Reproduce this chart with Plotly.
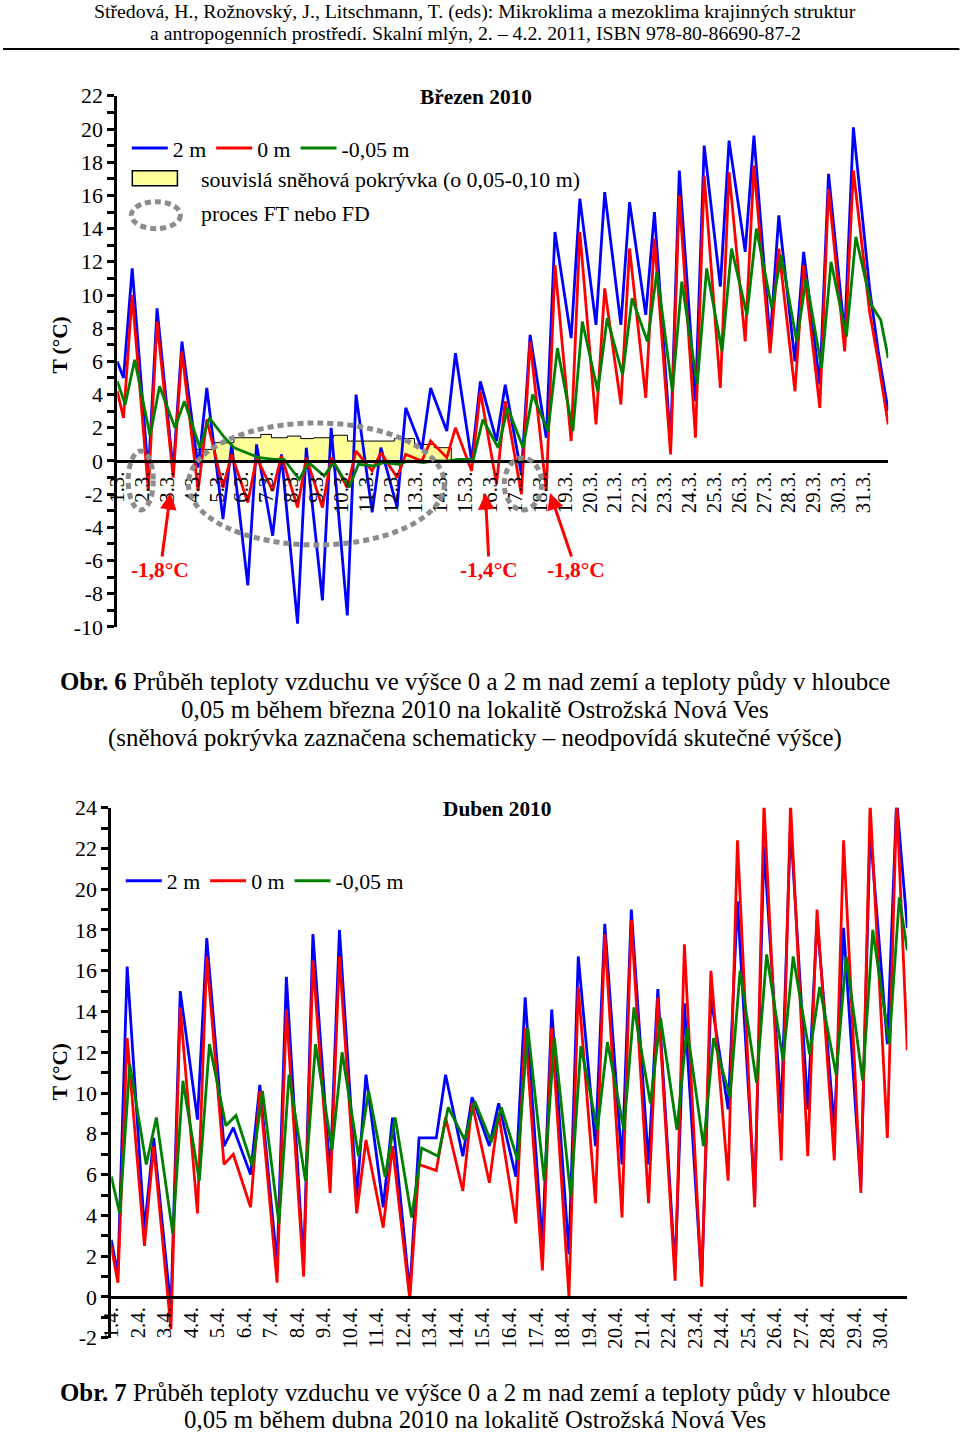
import plotly.graph_objects as go

# ---------------- DATA ----------------
# March 2010 (Březen) - daily low (~06 h) and high (~14 h) values, degC
mar_days = list(range(1, 32))
mar_2m_low = [5.0, -0.8, -0.6, -0.4, -3.5, -7.5, -4.5, -9.8, -8.4, -9.3, -3.1, -2.8, 0.7, 1.8, 0.0, 1.2,
              -0.8, 1.4, 7.4, 8.2, 8.2, 8.8, 1.0, 3.6, 10.5, 12.6, 7.2, 6.0, 4.6, 7.6, 10.4]
mar_2m_high = [11.6, 9.2, 7.2, 4.4, 1.0, 1.0, 0.4, 0.8, 2.0, 4.0, 0.8, 3.2, 4.4, 6.5, 4.8, 4.6,
               7.6, 13.8, 15.8, 16.2, 15.6, 15.0, 17.5, 19.0, 19.3, 19.6, 14.8, 12.6, 17.3, 20.1, 6.6]
mar_0m_low = [2.6, -1.8, -1.0, -1.8, -1.6, -2.5, -1.8, -2.8, -2.8, -1.6, -0.6, -1.0, 0.0, 0.2, -0.6, -1.4,
              -2.0, -1.8, 1.2, 2.2, 3.4, 3.8, 0.4, 1.4, 4.4, 7.2, 6.5, 4.2, 3.2, 6.6, 9.0]
mar_0m_high = [10.0, 8.4, 6.6, 2.5, 0.4, 0.2, 0.3, 0.2, 0.2, 0.6, 0.5, 0.4, 1.2, 2.0, 4.2, 3.6,
               7.2, 11.8, 13.8, 10.4, 12.8, 13.4, 16.0, 17.2, 17.4, 17.8, 12.8, 11.8, 16.4, 17.5, 6.0]
mar_05_low = [3.4, 1.5, 2.0, 0.8, 1.4, 0.4, 0.1, -1.1, -0.9, -1.6, -0.3, -0.2, -0.1, 0.0, 0.1, 0.8,
              0.8, 1.8, 1.8, 4.2, 5.2, 7.2, 4.2, 4.6, 6.6, 8.8, 9.2, 7.2, 5.6, 7.5, 9.4]
mar_05_high = [6.1, 4.5, 3.6, 2.6, 0.8, 0.2, 0.1, -0.1, -0.1, -0.2, -0.1, 0.0, 0.0, 0.1, 2.5, 3.2,
               4.0, 6.8, 8.4, 8.6, 9.8, 11.4, 10.8, 11.6, 12.8, 14.0, 12.4, 11.0, 12.0, 13.5, 8.5]
mar_start = {"2m": 6.0, "0m": 4.2, "05": 4.8}
mar_end = {"2m": 3.0, "0m": 2.2, "05": 6.2}
mar_labels = [f"{d}.3." for d in mar_days]
mar_yticks = list(range(-10, 23, 2))
mar_ylabels = [str(v) for v in mar_yticks]

# schematic snow cover (day, height in chart units)
snow_day = [4.08, 4.08, 4.88, 5.69, 6.77, 7.2, 7.84, 8.38, 8.9, 9.7, 10.26, 11.07, 12.14, 12.95, 13.75, 14.43, 14.43]
snow_h = [0.0, 0.7, 1.1, 1.4, 1.6, 1.4, 1.5, 1.35, 1.4, 1.55, 1.2, 1.2, 1.35, 1.0, 0.8, 0.8, 0.0]

# FT / FD ellipses: (day0, day1, t0, t1)
ft_ellipses = [(1.44, 2.45, -2.95, 0.6), (3.86, 14.15, -5.06, 2.29), (16.56, 18.06, -2.95, 0.18)]
# freezing-point callouts: (label, day of arrow tip, value of arrow tip, day of label)
mar_callouts = [("-1,8°C", 3.14, -1.93, 2.73), ("-1,4°C", 15.8, -1.93, 15.96), ("-1,8°C", 18.4, -1.93, 19.45)]

# April 2010 (Duben)
apr_days = list(range(1, 31))
apr_2m_low = [1.1, 3.3, -0.6, 8.7, 7.4, 6.0, 1.6, 1.5, 5.9, 4.9, 4.4, 0.2, 7.8, 6.9, 7.4, 5.9, 2.5, 2.1,
              7.4, 6.5, 6.5, 1.3, 0.7, 9.2, 4.9, 9.0, 9.2, 8.3, 5.4, 12.4]
apr_2m_high = [16.2, 7.8, 15.0, 17.6, 8.3, 10.4, 15.7, 17.8, 18.0, 10.9, 8.8, 7.8, 10.9, 9.8, 9.5, 14.7,
               14.1, 16.7, 18.3, 19.0, 15.1, 14.4, 14.7, 19.4, 22.1, 23.2, 18.5, 18.1, 22.9, 24.4]
apr_0m_low = [0.7, 2.5, -1.6, 4.1, 6.5, 4.4, 0.7, 1.0, 5.1, 4.1, 3.4, -0.1, 6.2, 5.2, 5.6, 3.6, 1.3, 0.0,
              4.6, 3.9, 4.6, 0.8, 0.5, 5.7, 4.4, 6.7, 6.9, 6.7, 5.1, 7.8]
apr_0m_high = [12.7, 7.4, 14.2, 16.7, 7.0, 10.1, 14.1, 16.5, 16.7, 7.7, 7.4, 6.5, 8.8, 9.5, 9.0, 13.2,
               13.2, 15.2, 17.8, 18.5, 14.7, 17.3, 16.0, 22.4, 24.2, 24.2, 19.0, 22.4, 24.2, 24.4]
apr_05_low = [4.1, 6.5, 3.1, 5.7, 8.4, 6.4, 3.6, 5.7, 7.2, 6.9, 5.9, 3.9, 6.9, 7.7, 7.6, 6.7, 5.7, 4.9,
              8.2, 8.2, 9.5, 8.2, 7.4, 9.8, 10.5, 11.6, 11.9, 10.9, 10.6, 12.4]
apr_05_high = [11.4, 8.8, 10.6, 12.4, 8.9, 10.1, 10.9, 12.4, 12.0, 10.1, 8.8, 7.3, 9.3, 9.6, 9.3, 13.2,
               12.7, 12.3, 12.5, 14.2, 13.7, 13.2, 12.7, 16.0, 16.8, 16.7, 15.2, 16.7, 18.0, 19.6]
apr_start = {"2m": 2.8, "0m": 2.5, "05": 5.9}
apr_end = {"2m": 18.1, "0m": 12.1, "05": 17.0}
apr_labels = [f"{d}.4." for d in apr_days]
apr_yticks = list(range(-2, 25, 2))
apr_ylabels = [str(v) for v in apr_yticks]

series_names = {"2m": "2 m", "0m": "0 m", "05": "-0,05 m"}
series_colors = {"2m": "#0000FF", "0m": "#FF0000", "05": "#008000"}
# hour of day (fraction) of daily low / high
series_times = {"2m": (0.25, 0.6), "0m": (0.25, 0.6), "05": (0.32, 0.7)}

# ---------------- FIGURE ----------------
W, H = 960, 1438
FONT = "Liberation Serif, Times New Roman, serif"
# page positions below are given in target-picture pixels; S/O compensate the
# slight scale/inset observed when the page is photographed
S, O = 0.985, 12.0


def px(x):
    return ((x - O) / S) / W


def py(y):
    return 1 - ((y - O) / S) / H


def fs(size):
    return round(size / S, 2)


def build(days, lows, highs, start, end, key):
    tl, th = series_times[key]
    xs = [days[0]]
    ys = [start]
    for d, lo, hi in zip(days, lows, highs):
        xs += [d + tl, d + th]
        ys += [lo, hi]
    xs.append(days[-1] + 1)
    ys.append(end)
    return xs, ys


fig = go.Figure()

# snow cover
fig.add_trace(go.Scatter(x=snow_day, y=snow_h, mode="lines", line=dict(color="black", width=1, shape="hv"),
                         fill="tozeroy", fillcolor="#FFFF99", showlegend=False, hoverinfo="skip",
                         xaxis="x", yaxis="y"))

mar = {"2m": (mar_2m_low, mar_2m_high), "0m": (mar_0m_low, mar_0m_high), "05": (mar_05_low, mar_05_high)}
apr = {"2m": (apr_2m_low, apr_2m_high), "0m": (apr_0m_low, apr_0m_high), "05": (apr_05_low, apr_05_high)}

for key in ["2m", "0m", "05"]:
    xs, ys = build(mar_days, mar[key][0], mar[key][1], mar_start[key], mar_end[key], key)
    fig.add_trace(go.Scatter(x=xs, y=ys, mode="lines", name=series_names[key],
                             line=dict(color=series_colors[key], width=2.8),
                             xaxis="x", yaxis="y", legend="legend"))
for key in ["2m", "0m", "05"]:
    xs, ys = build(apr_days, apr[key][0], apr[key][1], apr_start[key], apr_end[key], key)
    fig.add_trace(go.Scatter(x=xs, y=ys, mode="lines", name=series_names[key],
                             line=dict(color=series_colors[key], width=2.8),
                             xaxis="x2", yaxis="y2", legend="legend2"))

common_x = dict(anchor="free", showline=True, linecolor="black", linewidth=3, ticks="",
                showgrid=False, zeroline=False, tickangle=-90,
                tickfont=dict(family=FONT, size=fs(20.5), color="black"))
common_y = dict(showline=True, linecolor="black", linewidth=3, ticks="outside", ticklen=7, tickwidth=2.5,
                tickcolor="black", showgrid=False, zeroline=False,
                minor=dict(dtick=1, ticks="outside", ticklen=7, tickwidth=2.5, tickcolor="black"),
                tickfont=dict(family=FONT, size=fs(21.5), color="black"))

# chart 1 geometry (pixels): x 117..886 -> days 1..32, y 97..629 -> 22..-10
fig.update_layout(
    xaxis=dict(domain=[px(117), px(886)], range=[1, 32], tickvals=mar_days, ticktext=mar_labels,
               position=py(463), **common_x),
    yaxis=dict(domain=[py(629), py(97)], range=[-10, 22], anchor="x", tickvals=mar_yticks,
               ticktext=mar_ylabels, **common_y),
    xaxis2=dict(domain=[px(111), px(905)], range=[1, 31], tickvals=apr_days, ticktext=apr_labels,
                position=py(1300), **common_x),
    yaxis2=dict(domain=[py(1341), py(810)], range=[-2, 24], anchor="x2", tickvals=apr_yticks,
                ticktext=apr_ylabels, **common_y),
)

fig.update_layout(
    width=W, height=H, margin=dict(l=0, r=0, t=0, b=0),
    paper_bgcolor="white", plot_bgcolor="white",
    font=dict(family=FONT, color="black"),
    legend=dict(orientation="h", x=px(126.5), y=py(128.5), xanchor="left", yanchor="top",
                font=dict(family=FONT, size=fs(21.5)), bgcolor="rgba(0,0,0,0)", itemwidth=36),
    legend2=dict(orientation="h", x=px(120.5), y=py(862.5), xanchor="left", yanchor="top",
                 font=dict(family=FONT, size=fs(21.5)), bgcolor="rgba(0,0,0,0)", itemwidth=36),
)

shapes = []
# header rule
shapes.append(dict(type="line", xref="paper", yref="paper", x0=px(3), x1=px(957), y0=py(50), y1=py(50),
                   line=dict(color="black", width=2)))
# FT ellipses on chart 1
for (d0, d1, t0, t1) in ft_ellipses:
    shapes.append(dict(type="circle", xref="x", yref="y", x0=d0, x1=d1, y0=t0, y1=t1, layer="above",
                       line=dict(color="#8C8C8C", width=5, dash="6px,4px")))
# legend extras (snow box + FT ellipse)
shapes.append(dict(type="rect", xref="paper", yref="paper", x0=px(132), x1=px(177), y0=py(187), y1=py(172),
                   fillcolor="#FFFF99", line=dict(color="black", width=1.5)))
shapes.append(dict(type="circle", xref="paper", yref="paper", x0=px(131), x1=px(180), y0=py(230), y1=py(203),
                   line=dict(color="#8C8C8C", width=5, dash="6px,4px")))
fig.update_layout(shapes=shapes)

ann = []


def text(x, y, s, size=20, bold=False, color="black", anchor="center", angle=0):
    ann.append(dict(xref="paper", yref="paper", x=px(x), y=py(y), text=(f"<b>{s}</b>" if bold else s),
                    showarrow=False, xanchor=anchor, yanchor="middle", textangle=angle,
                    font=dict(family=FONT, size=fs(size), color=color)))


text(474, 12.5, "Středová, H., Rožnovský, J., Litschmann, T. (eds): Mikroklima a mezoklima krajinných struktur", 19.5)
text(474, 34.5, "a antropogenních prostředí. Skalní mlýn, 2. – 4.2. 2011, ISBN 978-80-86690-87-2", 19.5)
text(475, 98, "Březen 2010", 21, bold=True)
text(496, 811, "Duben 2010", 21, bold=True)
text(60, 347, "T (°C)", 21, bold=True, angle=-90)
text(60, 1075, "T (°C)", 21, bold=True, angle=-90)
text(199, 181, "souvislá sněhová pokrývka (o 0,05-0,10 m)", 21.5, anchor="left")
text(199, 215, "proces FT nebo FD", 21.5, anchor="left")
text(474, 684, "<b>Obr. 6</b> Průběh teploty vzduchu ve výšce 0 a 2 m nad zemí a teploty půdy v hloubce", 24.5)
text(474, 712, "0,05 m během března 2010 na lokalitě Ostrožská Nová Ves", 24.5)
text(474, 740, "(sněhová pokrývka zaznačena schematicky – neodpovídá skutečné výšce)", 24.5)
text(474, 1396, "<b>Obr. 7</b> Průběh teploty vzduchu ve výšce 0 a 2 m nad zemí a teploty půdy v hloubce", 24.5)
text(474, 1423, "0,05 m během dubna 2010 na lokalitě Ostrožská Nová Ves", 24.5)

for (lab, dx, val, lx) in mar_callouts:
    ann.append(dict(xref="x", yref="y", axref="x", ayref="y", x=dx, y=val, ax=lx, ay=-6.57,
                    text=f"<b>{lab}</b>", showarrow=True, arrowhead=2, arrowsize=1.1, arrowwidth=3,
                    arrowcolor="#FF0000", standoff=0, startstandoff=0,
                    font=dict(family=FONT, size=fs(21), color="#FF0000")))

fig.update_layout(annotations=ann)

fig.write_html("out.html", config={"displayModeBar": False},
               post_script="document.body.style.margin='0px';document.body.style.overflow='hidden';")
